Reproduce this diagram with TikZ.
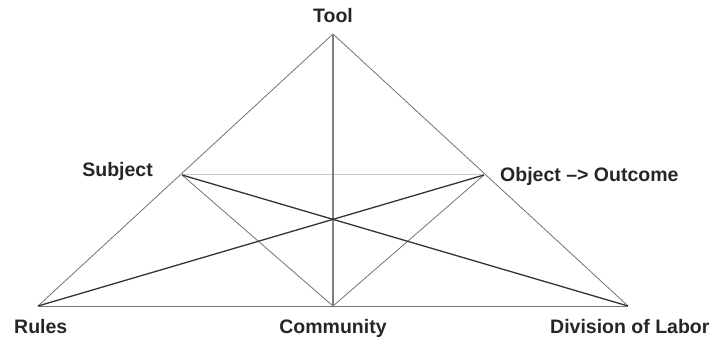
\documentclass[tikz,border=0pt]{standalone}
\usepackage{fontspec}
\setmainfont{Liberation Sans}
\begin{document}
\begin{tikzpicture}[x=1pt,y=1pt,
    lbl/.style={font=\fontsize{19.5}{22}\selectfont\bfseries, text=black!85, inner sep=0pt, anchor=base},
    edge/.style={draw=black!55, line width=0.8pt},
    axis/.style={draw=black!50, line width=1.4pt},
    crossbar/.style={draw=black!22, line width=1pt},
    diag/.style={draw=black!80, line width=1.3pt}]
      \useasboundingbox (0,0) rectangle (711,337);
      \draw
        (333,303) coordinate (tool)
        (182,162) coordinate (subject)
        (484,162) coordinate (object)
        (38,31) coordinate (rules)
        (333,31) coordinate (community)
        (628,31) coordinate (division);
      \node[lbl] (toollbl) at (333,314) {Tool};
      \node[lbl, anchor=base east] (subjectlbl) at (153,160) {Subject};
      \node[lbl, anchor=base west] (objectlbl) at (500,155) {Object –> Outcome};
      \node[lbl, anchor=base west] (ruleslbl) at (14,4) {Rules};
      \node[lbl] (communitylbl) at (333,4) {Community};
      \node[lbl, anchor=base west] (divisionlbl) at (550,4) {Division of Labor};
      \begin{scope}[-]
        \draw[edge] (tool) to (rules);
        \draw[edge] (tool) to (division);
        \draw[edge] (rules) to (division);
        \draw[edge] (subject) to (community);
        \draw[edge] (object) to (community);
        \draw[crossbar] (subject) to (object);
        \draw[axis] (tool) to (community);
        \draw[diag] (subject) to (division);
        \draw[diag] (rules) to (object);
      \end{scope}
    \end{tikzpicture}
\end{document}
